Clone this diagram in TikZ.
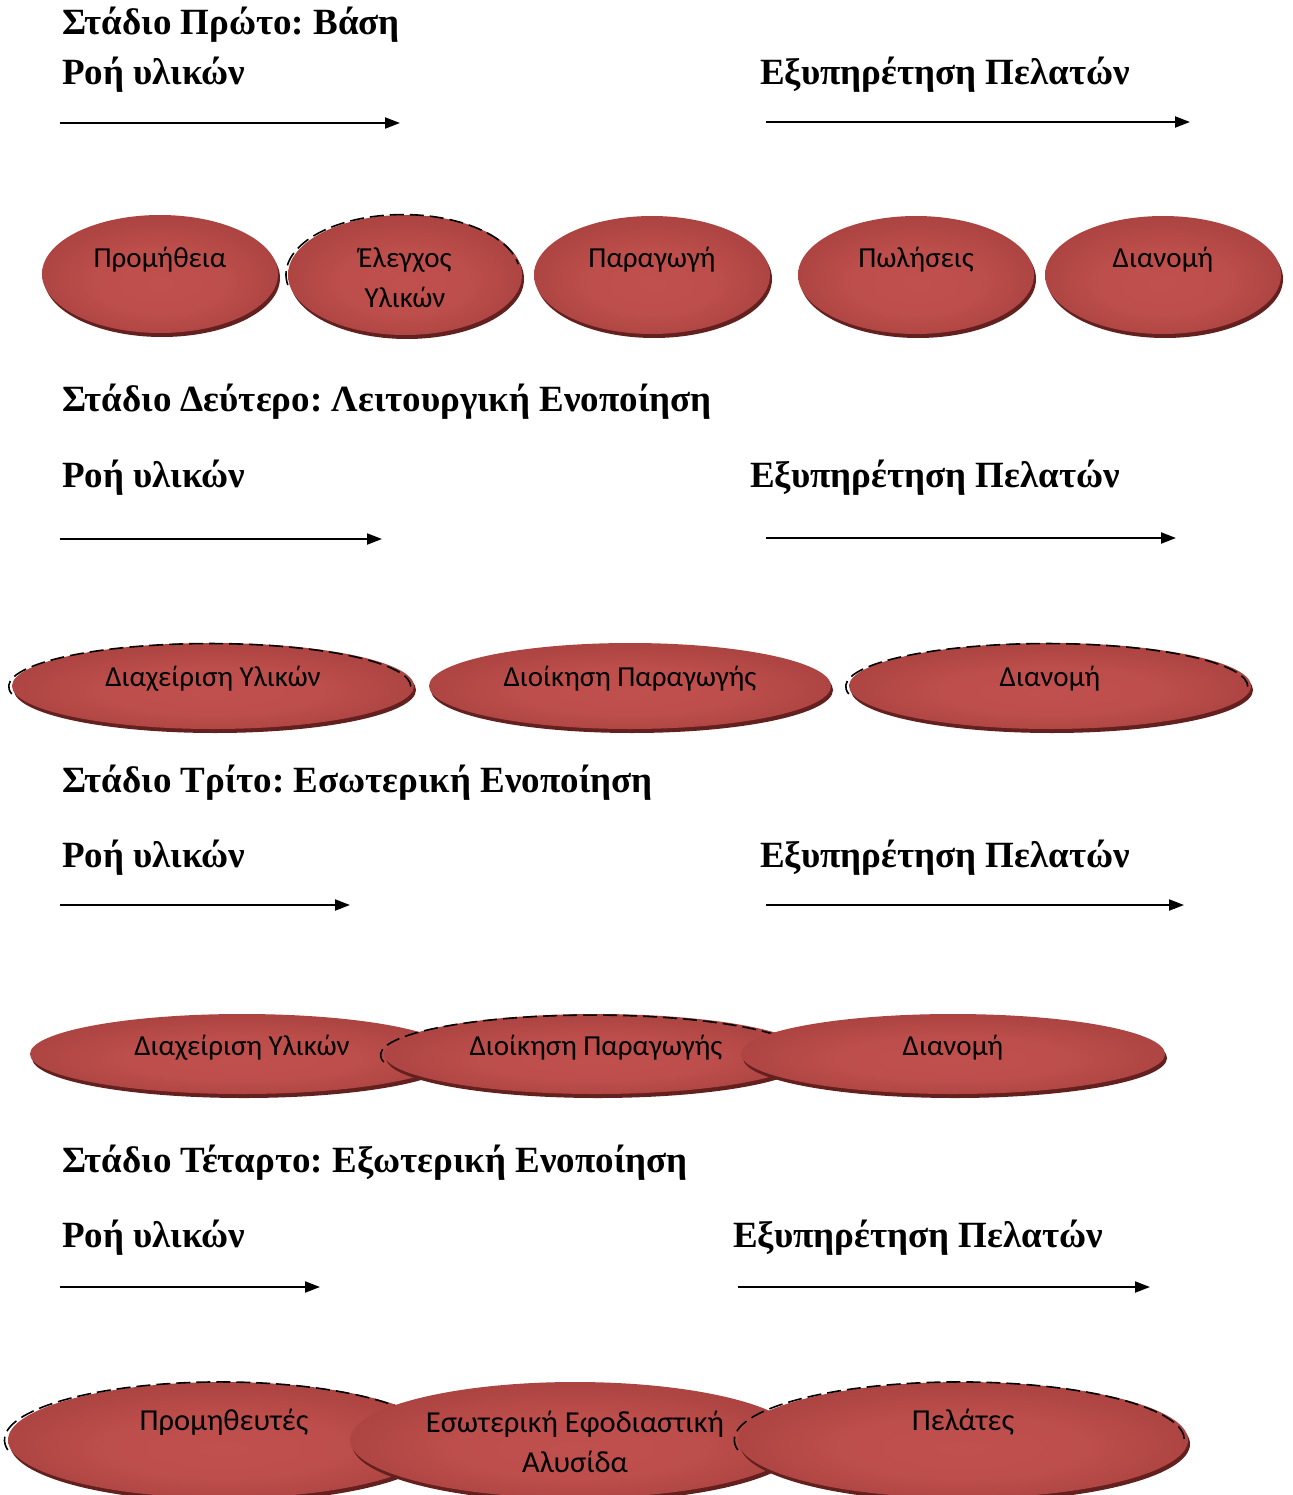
\documentclass[tikz,border=0pt]{standalone}
\usepackage{fontspec}
\setmainfont{Liberation Serif}
\newfontfamily\ovalfont{Carlito}
\usetikzlibrary{arrows.meta,shapes.geometric,shadows}
\frenchspacing
\definecolor{ovalLight}{RGB}{192,80,77}
\definecolor{ovalDark}{RGB}{142,50,48}
\definecolor{ovalRim}{RGB}{100,32,30}
\pgfdeclareradialshading{ovalshade}{\pgfpoint{0bp}{-4bp}}{%
  color(0bp)=(ovalLight); color(14bp)=(ovalLight!92!ovalDark);
  color(32bp)=(ovalLight!45!ovalDark); color(46bp)=(ovalDark); color(50bp)=(ovalDark)}
\tikzset{
  heading/.style={anchor=west, inner sep=0pt, font=\fontsize{37}{44}\selectfont\bfseries},
  flowlabel/.style={anchor=west, inner sep=0pt, font=\fontsize{37}{44}\selectfont\bfseries},
  flowarrow/.style={-{Triangle[length=15pt,width=11pt]}, line width=2pt},
  oval/.style={
    ellipse,
    inner sep=0pt,
    shading=ovalshade,
    drop shadow={shadow xshift=2pt, shadow yshift=-4pt, opacity=1, fill=ovalRim}
  },
  ovaltext/.style={font=\ovalfont\fontsize{29}{40}\selectfont, align=center, text=black},
  bigovaltext/.style={font=\ovalfont\fontsize{30.5}{40}\selectfont, align=center, text=black},
  dashrim/.style={draw=black, line width=1.6pt, dash pattern=on 14pt off 6pt}
}
\begin{document}
\begin{tikzpicture}[x=1pt,y=-1pt]
\useasboundingbox (0,0) rectangle (1292,1495);

% Stage 1
\node[heading] (h1) at (62,25) {Στάδιο Πρώτο: Βάση};
\node[flowlabel] (mat1) at (62,75) {Ροή υλικών};
\node[flowlabel] (cust1) at (760,75) {Εξυπηρέτηση Πελατών};
\coordinate (m1a) at (60,123);  \coordinate (m1b) at (400,123);
\coordinate (c1a) at (766,122); \coordinate (c1b) at (1190,122);
\draw[flowarrow] (m1a) -- (m1b);
\draw[flowarrow] (c1a) -- (c1b);

\node[oval, minimum width=236pt, minimum height=118pt,
  label={[ovaltext, yshift=14pt]center:Προμήθεια}] (prom) at (160,274) {};
\node[oval, minimum width=234pt, minimum height=120pt,
  label={[ovaltext, yshift=-3pt]center:Έλεγχος\\Υλικών}] (elegx) at (405,275) {};
\draw[dashrim] ([yshift=-10pt]elegx.west) arc[start angle=190, end angle=10, x radius=117pt, y radius=60pt];
\node[oval, minimum width=236pt, minimum height=118pt,
  label={[ovaltext, yshift=15pt]center:Παραγωγή}] (parag) at (652,275) {};
\node[oval, minimum width=236pt, minimum height=118pt,
  label={[ovaltext, yshift=15pt]center:Πωλήσεις}] (pol) at (916,275) {};
\node[oval, minimum width=236pt, minimum height=118pt,
  label={[ovaltext, yshift=15pt]center:Διανομή}] (dian1) at (1163,275) {};

% Stage 2
\node[heading] (h2) at (62,402) {Στάδιο Δεύτερο: Λειτουργική Ενοποίηση};
\node[flowlabel] (mat2) at (62,478) {Ροή υλικών};
\node[flowlabel] (cust2) at (750,478) {Εξυπηρέτηση Πελατών};
\coordinate (m2a) at (60,539);  \coordinate (m2b) at (382,539);
\coordinate (c2a) at (766,538); \coordinate (c2b) at (1176,538);
\draw[flowarrow] (m2a) -- (m2b);
\draw[flowarrow] (c2a) -- (c2b);

\node[oval, minimum width=402pt, minimum height=86pt,
  label={[ovaltext, yshift=7pt]center:Διαχείριση Υλικών}] (diax2) at (213,686) {};
\draw[dashrim] ([yshift=-8pt]diax2.west) arc[start angle=190, end angle=0, x radius=201pt, y radius=43pt];
\node[oval, minimum width=402pt, minimum height=86pt,
  label={[ovaltext, yshift=7pt]center:Διοίκηση Παραγωγής}] (dioik2) at (630,686) {};
\node[oval, minimum width=402pt, minimum height=86pt,
  label={[ovaltext, yshift=7pt]center:Διανομή}] (dian2) at (1050,686) {};
\draw[dashrim] ([yshift=-8pt]dian2.west) arc[start angle=190, end angle=0, x radius=201pt, y radius=43pt];

% Stage 3
\node[heading] (h3) at (62,783) {Στάδιο Τρίτο: Εσωτερική Ενοποίηση};
\node[flowlabel] (mat3) at (62,858) {Ροή υλικών};
\node[flowlabel] (cust3) at (760,858) {Εξυπηρέτηση Πελατών};
\coordinate (m3a) at (60,905);  \coordinate (m3b) at (350,905);
\coordinate (c3a) at (766,905); \coordinate (c3b) at (1184,905);
\draw[flowarrow] (m3a) -- (m3b);
\draw[flowarrow] (c3a) -- (c3b);

\node[oval, minimum width=424pt, minimum height=80pt,
  label={[ovaltext, yshift=6pt]center:Διαχείριση Υλικών}] (diax3) at (242,1054) {};
\node[oval, minimum width=424pt, minimum height=80pt,
  label={[ovaltext, yshift=6pt]center:Διοίκηση Παραγωγής}] (dioik3) at (596,1054) {};
\draw[dashrim] ([yshift=-8pt]dioik3.west) arc[start angle=190, end angle=0, x radius=212pt, y radius=40pt];
\node[oval, minimum width=424pt, minimum height=80pt,
  label={[ovaltext, yshift=6pt]center:Διανομή}] (dian3) at (953,1054) {};

% Stage 4
\node[heading] (h4) at (62,1163) {Στάδιο Τέταρτο: Εξωτερική Ενοποίηση};
\node[flowlabel] (mat4) at (62,1238) {Ροή υλικών};
\node[flowlabel] (cust4) at (733,1238) {Εξυπηρέτηση Πελατών};
\coordinate (m4a) at (60,1287);  \coordinate (m4b) at (320,1287);
\coordinate (c4a) at (738,1287); \coordinate (c4b) at (1150,1287);
\draw[flowarrow] (m4a) -- (m4b);
\draw[flowarrow] (c4a) -- (c4b);

\node[oval, minimum width=432pt, minimum height=116pt,
  label={[bigovaltext, yshift=18pt]center:Προμηθευτές}] (prom4) at (224,1440) {};
\draw[dashrim] ([yshift=-10pt]prom4.west) arc[start angle=190, end angle=0, x radius=216pt, y radius=58pt];
\node[oval, minimum width=450pt, minimum height=116pt,
  label={[bigovaltext, yshift=-2pt]center:Εσωτερική Εφοδιαστική\\Αλυσίδα}] (esot) at (575,1440) {};
\node[oval, minimum width=450pt, minimum height=116pt,
  label={[bigovaltext, yshift=18pt]center:Πελάτες}] (pelat) at (963,1440) {};
\draw[dashrim] ([yshift=-10pt]pelat.west) arc[start angle=190, end angle=0, x radius=225pt, y radius=58pt];

\end{tikzpicture}
\end{document}
